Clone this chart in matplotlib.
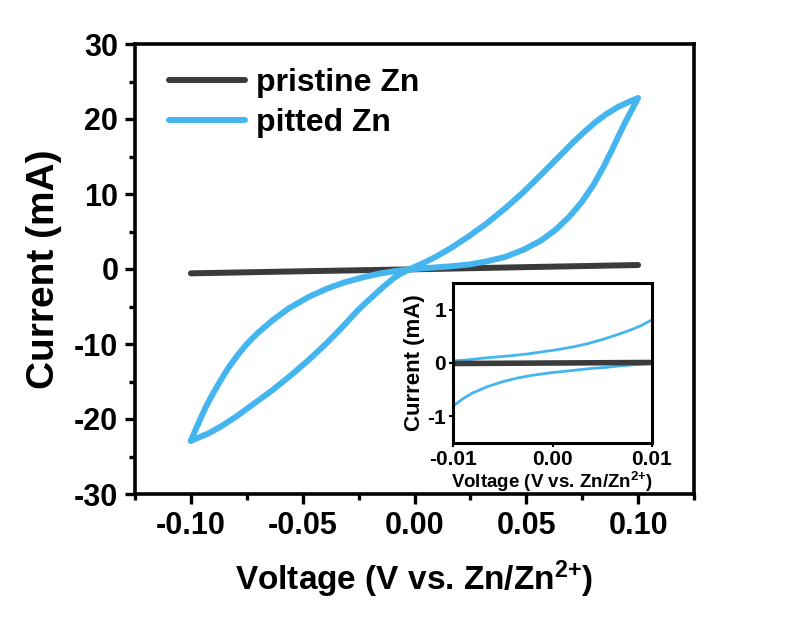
import matplotlib
matplotlib.use('Agg')
import matplotlib.pyplot as plt
from matplotlib.ticker import MultipleLocator

plt.rcParams['font.family'] = ['Liberation Sans', 'DejaVu Sans']
plt.rcParams['font.weight'] = 'bold'
plt.rcParams['axes.labelweight'] = 'bold'
plt.rcParams['mathtext.default'] = 'regular'

# ---- data ----
# pitted Zn: closed CV loop, flat branch (-0.1 -> 0.1) then steep branch (0.1 -> -0.1)
pitted_v_fwd = [-0.100, -0.098, -0.0955, -0.093, -0.0905, -0.087, -0.0835, -0.0794,
                -0.075, -0.070, -0.0633, -0.056, -0.0472, -0.039, -0.0315, -0.023,
                -0.0154, -0.008, 0.000, 0.0087, 0.016, 0.0244, 0.032, 0.0405, 0.049,
                0.0566, 0.063, 0.069, 0.0745, 0.080, 0.0845, 0.0885, 0.092, 0.095,
                0.0975, 0.100]
pitted_i_fwd = [-22.9, -21.5, -19.8, -18.2, -16.8, -15.0, -13.3, -11.6,
                -10.0, -8.5, -6.8, -5.2, -3.7, -2.6, -1.8, -1.1,
                -0.6, -0.25, 0.0, 0.2, 0.35, 0.6, 1.0, 1.6, 2.6,
                3.8, 5.2, 6.9, 8.8, 11.2, 13.6, 16.0, 18.2, 20.0,
                21.4, 22.8]
pitted_v_rev = [0.100, 0.096, 0.091, 0.086, 0.081, 0.076, 0.071, 0.066, 0.061,
                0.055, 0.0485, 0.041, 0.0324, 0.024, 0.0163, 0.010, 0.004, -0.002,
                -0.006, -0.0092, -0.014, -0.0185, -0.025, -0.0315, -0.039, -0.0472,
                -0.055, -0.0633, -0.072, -0.0794, -0.086, -0.092, -0.096, -0.100]
pitted_i_rev = [22.8, 22.3, 21.6, 20.7, 19.6, 18.3, 16.9, 15.4, 13.9,
                12.1, 10.2, 8.2, 6.1, 4.3, 2.8, 1.7, 0.8, 0.0,
                -0.6, -1.2, -2.4, -3.6, -5.4, -7.5, -9.8, -12.1,
                -14.1, -16.1, -18.0, -19.6, -20.9, -21.9, -22.4, -22.9]

pristine_v = [-0.100, -0.050, 0.000, 0.050, 0.100]
pristine_i = [-0.58, -0.30, -0.04, 0.25, 0.53]

# inset (zoom on -0.01 .. 0.01 V)
inset_v_up = [-0.010, -0.0085, -0.007, -0.0055, -0.004, -0.0025, -0.001, 0.0005,
              0.002, 0.0035, 0.005, 0.0065, 0.008, 0.009, 0.010]
inset_i_up = [0.04, 0.06, 0.09, 0.115, 0.14, 0.17, 0.21, 0.25,
              0.30, 0.36, 0.44, 0.53, 0.63, 0.71, 0.81]
inset_v_dn = [0.010, 0.0085, 0.007, 0.0055, 0.004, 0.0025, 0.001, -0.0005,
              -0.002, -0.0035, -0.005, -0.0065, -0.008, -0.009, -0.010]
inset_i_dn = [-0.01, -0.03, -0.05, -0.08, -0.10, -0.13, -0.16, -0.19,
              -0.23, -0.28, -0.35, -0.44, -0.56, -0.67, -0.81]
inset_pristine_v = [-0.010, 0.000, 0.010]
inset_pristine_i = [-0.01, 0.0, 0.01]

dark = '#3b3b3b'
blue = '#45b5f0'

fig = plt.figure(figsize=(7.96, 6.26), dpi=100)
ax = fig.add_axes([135/796, 1 - 494/626, 559/796, 450/626])

pitted_v = pitted_v_fwd + pitted_v_rev[1:]
pitted_i = pitted_i_fwd + pitted_i_rev[1:]
ax.plot(pristine_v, pristine_i, color=dark, lw=4.3, solid_capstyle='round', label='pristine Zn')
ax.plot(pitted_v, pitted_i, color=blue, lw=4.3, solid_joinstyle='round',
        solid_capstyle='round', label='pitted Zn')

ax.set_xlim(-0.125, 0.125)
ax.set_ylim(-30, 30)
ax.xaxis.set_minor_locator(MultipleLocator(0.025))
ax.yaxis.set_minor_locator(MultipleLocator(5))
ax.set_xticks([-0.10, -0.05, 0.00, 0.05, 0.10])
ax.set_xticklabels(['-0.10', '-0.05', '0.00', '0.05', '0.10'])
ax.set_yticks([-30, -20, -10, 0, 10, 20, 30])
ax.set_yticklabels(['-30', '-20', '-10', '0', '10', '20', '30'])
for s in ax.spines.values():
    s.set_linewidth(2.6)
ax.tick_params(which='major', direction='out', length=7, width=2.4, labelsize=22, pad=5)
ax.tick_params(which='minor', direction='out', length=4, width=2.4)

ax.set_xlabel(r'Voltage (V vs. Zn/Zn$^{2{+}}$)', fontsize=24, labelpad=13)
ax.set_ylabel('Current (mA)', fontsize=28, labelpad=9)

leg = ax.legend(loc='upper left', bbox_to_anchor=(0.06, 0.947), frameon=False,
                fontsize=23, handlelength=2.4, handletextpad=0.35,
                labelspacing=0.32, borderpad=0, borderaxespad=0)

# ---- inset ----
ins = fig.add_axes([453/796, 1 - 443/626, 199/796, 160/626])
ins.plot(inset_v_up, inset_i_up, color=blue, lw=2.0)
ins.plot(inset_v_dn, inset_i_dn, color=blue, lw=2.0)
ins.plot(inset_pristine_v, inset_pristine_i, color=dark, lw=4.0)
ins.set_xlim(-0.01, 0.01)
ins.set_ylim(-1.5, 1.5)
ins.set_xticks([-0.01, 0.00, 0.01])
ins.set_xticklabels(['-0.01', '0.00', '0.01'])
ins.set_yticks([-1, 0, 1])
ins.set_yticklabels(['-1', '0', '1'])
for s in ins.spines.values():
    s.set_linewidth(2.2)
ins.tick_params(direction='out', length=3, width=1.5, labelsize=15, pad=2)
ins.set_xlabel(r'Voltage (V vs. Zn/Zn$^{2{+}}$)', fontsize=13.5, labelpad=1)
ins.set_ylabel('Current (mA)', fontsize=16, labelpad=2)

fig.savefig('out.png', dpi=100, facecolor='white')
